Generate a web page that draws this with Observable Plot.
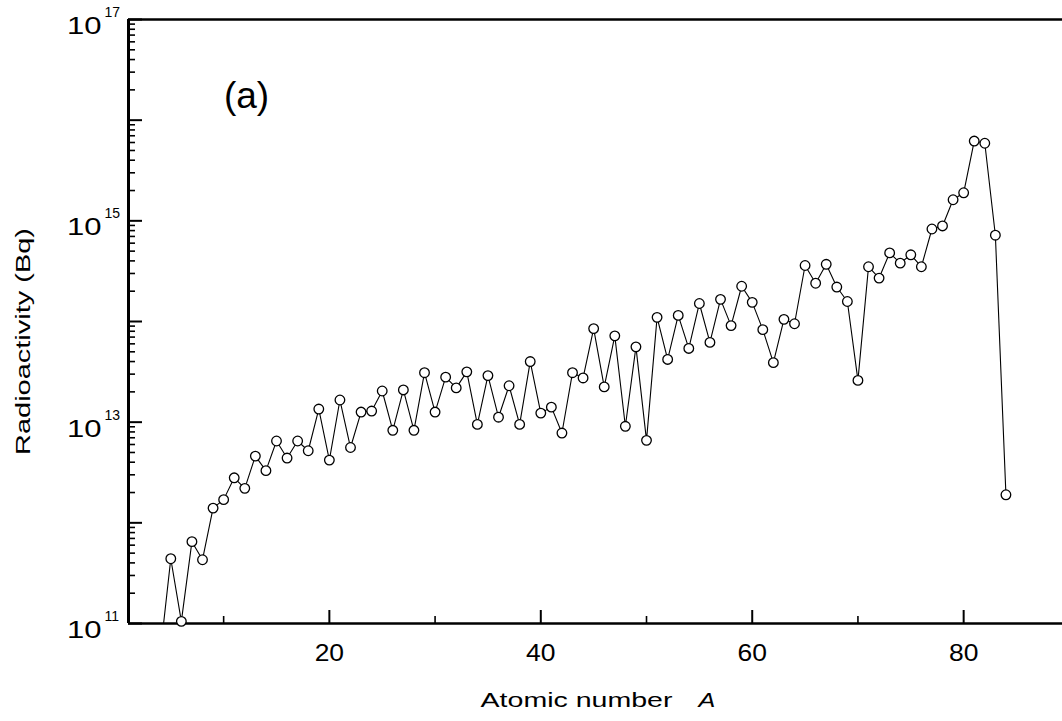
<!DOCTYPE html>
<html>
<head>
<meta charset="utf-8">
<script src="https://cdn.jsdelivr.net/npm/d3@7"></script>
<script src="https://cdn.jsdelivr.net/npm/@observablehq/plot@0.6"></script>
<style>
  html, body { margin: 0; padding: 0; background: #fff; }
  #chart svg { display: block; }
</style>
</head>
<body>
<div id="chart"></div>
<script>
// Atomic number A
const atomicNumber = [4, 5, 6, 7, 8, 9, 10, 11, 12, 13, 14, 15, 16, 17, 18, 19, 20,
  21, 22, 23, 24, 25, 26, 27, 28, 29, 30, 31, 32, 33, 34, 35, 36, 37, 38, 39, 40,
  41, 42, 43, 44, 45, 46, 47, 48, 49, 50, 51, 52, 53, 54, 55, 56, 57, 58, 59, 60,
  61, 62, 63, 64, 65, 66, 67, 68, 69, 70, 71, 72, 73, 74, 75, 76, 77, 78, 79, 80,
  81, 82, 83, 84];
// Radioactivity (Bq)
const radioactivity = [5.0e10, 4.4e11, 1.05e11, 6.5e11, 4.3e11, 1.4e12, 1.7e12, 2.8e12, 2.2e12, 4.6e12, 3.3e12,
  6.5e12, 4.4e12, 6.5e12, 5.2e12, 1.35e13, 4.2e12,
  1.66e13, 5.6e12, 1.26e13, 1.29e13, 2.04e13, 8.3e12, 2.09e13, 8.3e12, 3.1e13, 1.26e13,
  2.8e13, 2.19e13, 3.16e13, 9.5e12, 2.9e13, 1.12e13, 2.3e13, 9.5e12, 4.0e13, 1.23e13,
  1.41e13, 7.8e12, 3.1e13, 2.75e13, 8.5e13, 2.24e13, 7.2e13, 9.1e12, 5.6e13, 6.6e12,
  1.10e14, 4.2e13, 1.15e14, 5.4e13, 1.51e14, 6.2e13, 1.66e14, 9.1e13, 2.24e14, 1.55e14,
  8.3e13, 3.9e13, 1.05e14, 9.5e13, 3.6e14, 2.4e14, 3.7e14, 2.2e14, 1.58e14, 2.6e13,
  3.5e14, 2.7e14, 4.8e14, 3.8e14, 4.6e14, 3.5e14, 8.3e14, 8.9e14, 1.62e15, 1.9e15,
  6.2e15, 5.9e15, 7.2e14, 1.9e12];

const xDomain = [1, 89.35];
const yDomain = [1e11, 1e17];
const xMajorTicks = [20, 40, 60, 80];
const xMinorTicks = [10, 30, 50, 70];
const yDecadeExponents = [11, 12, 13, 14, 15, 16, 17];
const yLabelExponents = [11, 13, 15, 17];
const yMinorMultipliers = [2, 3, 4, 5, 6, 7, 8, 9];
const panelLabel = "(a)";
const yTitle = "Radioactivity (Bq)";
const xTitle = "Atomic number";
const xTitleSymbol = "A";

const data = atomicNumber.map((a, i) => ({a, v: radioactivity[i]}));
const yDecades = yDecadeExponents.map(e => 10 ** e);
const yMinor = yDecadeExponents.slice(0, -1).flatMap(e => yMinorMultipliers.map(m => m * 10 ** e));

const W = 1062, H = 721;
const mL = 128, mR = 0, mT = 19, mB = 98;
const frameW = W - mL - mR, frameH = H - mT - mB;

const chart = Plot.plot({
  width: W,
  height: H,
  marginLeft: mL,
  marginRight: mR,
  marginTop: mT,
  marginBottom: mB,
  style: {fontFamily: "'Liberation Sans', Arial, Helvetica, sans-serif", background: "#fff", color: "#000"},
  x: {domain: xDomain, axis: null},
  y: {type: "log", domain: yDomain, axis: null},
  marks: [
    // frame: top, bottom, left
    Plot.ruleY(yDomain, {stroke: "#000", strokeWidth: 2.6}),
    Plot.ruleX([xDomain[0]], {stroke: "#000", strokeWidth: 3}),
    // y ticks (inside)
    Plot.tickY(yDecades, {y: d => d, stroke: "#000", strokeWidth: 2, insetRight: frameW - 14}),
    Plot.tickY(yMinor, {y: d => d, stroke: "#000", strokeWidth: 1.6, insetRight: frameW - 7}),
    // x ticks (inside)
    Plot.tickX(xMajorTicks, {x: d => d, stroke: "#000", strokeWidth: 2, insetTop: frameH - 13}),
    Plot.tickX(xMinorTicks, {x: d => d, stroke: "#000", strokeWidth: 1.6, insetTop: frameH - 7}),
    // y tick labels 10^n
    Plot.text(yLabelExponents, {y: e => 10 ** e, text: () => "10", frameAnchor: "left", textAnchor: "end",
      lineAnchor: "middle", dx: -27, dy: 7, fontSize: 23, fill: "#000"}),
    Plot.text(yLabelExponents, {y: e => 10 ** e, text: e => String(e), frameAnchor: "left", textAnchor: "start",
      lineAnchor: "middle", dx: -24, dy: -7, fontSize: 14, fill: "#000"}),
    // x tick labels
    Plot.text(xMajorTicks, {x: d => d, text: d => String(d), frameAnchor: "bottom", textAnchor: "middle",
      lineAnchor: "middle", dy: 30, fontSize: 23, fill: "#000"}),
    // axis titles
    Plot.text([yTitle], {text: d => d, frameAnchor: "left", rotate: -90, textAnchor: "middle", lineAnchor: "middle",
      dx: -105, dy: 20, fontSize: 21, fill: "#000"}),
    Plot.text([xTitle], {text: d => d, frameAnchor: "bottom", textAnchor: "end", lineAnchor: "middle",
      dx: 77, dy: 77, fontSize: 21, fill: "#000"}),
    Plot.text([xTitleSymbol], {text: d => d, frameAnchor: "bottom", textAnchor: "start", lineAnchor: "middle",
      dx: 103, dy: 77, fontSize: 21, fontStyle: "italic", fill: "#000"}),
    // panel label
    Plot.text([panelLabel], {text: d => d, frameAnchor: "top-left", textAnchor: "middle", lineAnchor: "middle",
      dx: 118, dy: 77, fontSize: 37, fill: "#000"}),
    // data
    Plot.line(data, {x: "a", y: "v", stroke: "#000", strokeWidth: 1.1, clip: true}),
    Plot.dot(data.filter(d => d.v >= yDomain[0]), {x: "a", y: "v", r: 4.8, fill: "#fff", stroke: "#000", strokeWidth: 1.3})
  ]
});

// the original typeface is wider than Liberation Sans: stretch text along its reading direction
const stretchByText = new Map([
  [yTitle, 1.38], [xTitle, 1.36], [xTitleSymbol, 1.2], ["10", 1.35],
  ...xMajorTicks.map(t => [String(t), 1.15])
]);
chart.querySelectorAll("text").forEach(t => {
  const s = stretchByText.get(t.textContent);
  if (!s) return;
  const tr = t.getAttribute("transform");
  if (tr) t.setAttribute("transform", `${tr} scale(${s},1)`);
});

document.getElementById("chart").appendChild(chart);
</script>
</body>
</html>
